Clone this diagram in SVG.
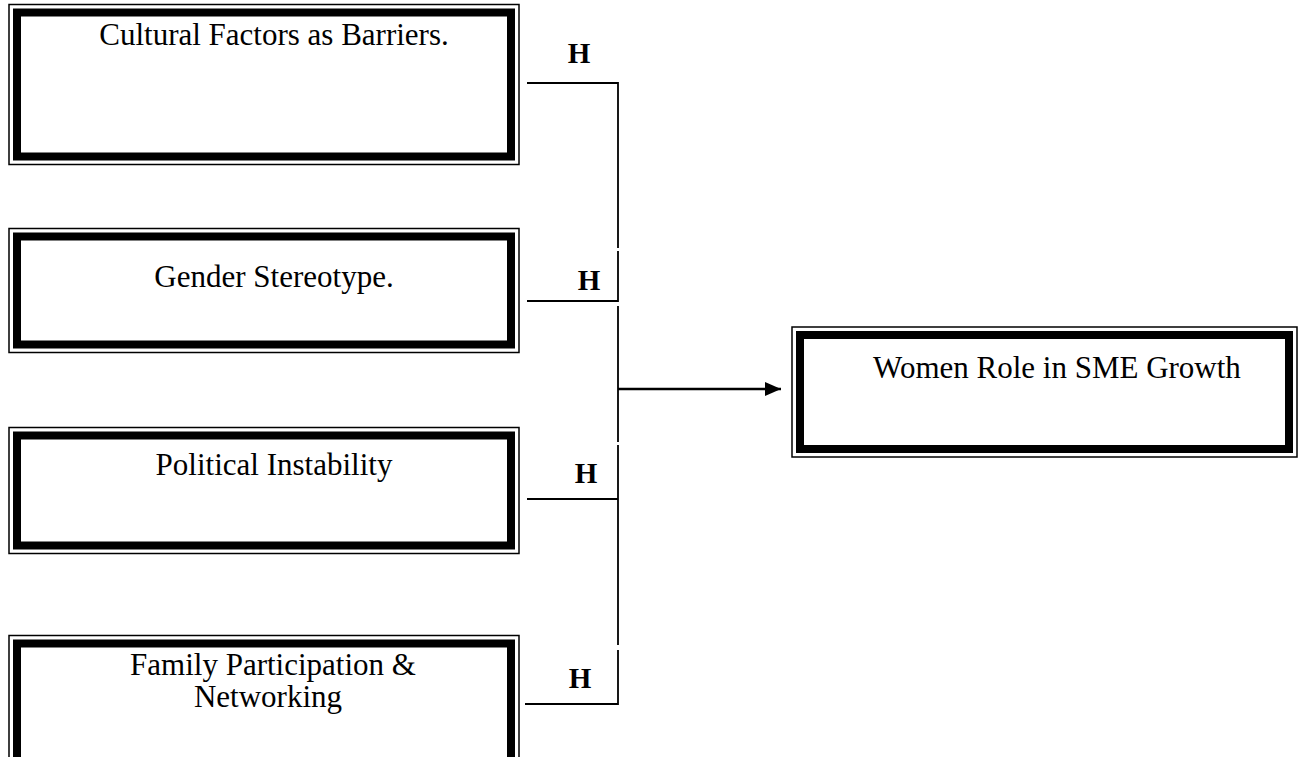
<svg xmlns="http://www.w3.org/2000/svg" width="1301" height="757" viewBox="0 0 1301 757">
<style>
.outer{fill:#fff;stroke:#000;stroke-width:1.5}
.thick{fill:none;stroke:#000;stroke-width:8}
.lbl{font-family:"Liberation Serif","Times New Roman",serif;font-size:31px;fill:#000;text-anchor:middle}
.h{font-family:"Liberation Serif","Times New Roman",serif;font-size:29px;font-weight:bold;fill:#000;text-anchor:middle}
.ln{stroke:#000;stroke-width:1.8;fill:none}
</style>
<defs>
<marker id="arr" markerWidth="16" markerHeight="14" refX="16" refY="7" orient="auto" markerUnits="userSpaceOnUse">
<path d="M0,0 L16,7 L0,14 Z" fill="#000"/>
</marker>
</defs>
<rect width="1301" height="757" fill="#fff"/>
<g id="node-cultural">
<rect class="outer" x="9" y="4.5" width="510" height="160"/>
<rect class="thick" x="17" y="12.5" width="494" height="144"/>
<text class="lbl" x="274" y="45">Cultural Factors as Barriers.</text>
</g>
<g id="node-gender">
<rect class="outer" x="9" y="228.5" width="510" height="124"/>
<rect class="thick" x="17" y="236.5" width="494" height="108"/>
<text class="lbl" x="274" y="287">Gender Stereotype.</text>
</g>
<g id="node-political">
<rect class="outer" x="9" y="427.5" width="510" height="126"/>
<rect class="thick" x="17" y="435.5" width="494" height="110"/>
<text class="lbl" x="274" y="475">Political Instability</text>
</g>
<g id="node-family">
<rect class="outer" x="9" y="635.5" width="510" height="160"/>
<rect class="thick" x="17" y="643.5" width="494" height="144"/>
<text class="lbl" x="273" y="675">Family Participation &amp;</text>
<text class="lbl" x="268" y="707">Networking</text>
</g>
<g id="node-women">
<rect class="outer" x="792" y="327" width="505" height="130"/>
<rect class="thick" x="800" y="335" width="489" height="114"/>
<text class="lbl" x="1057" y="378">Women Role in SME Growth</text>
</g>
<g id="connectors">
<path class="ln" d="M527,83 H618 V248 M618,251 V301 H527 M618,306 V442 M618,445 V499 H527 M618,499 V645 M618,650 V704 H525"/>
<line x1="618" y1="389" x2="781" y2="389" stroke="#000" stroke-width="2.4" marker-end="url(#arr)"/>
<text class="h" x="579" y="63">H</text>
<text class="h" x="589" y="290">H</text>
<text class="h" x="586" y="483">H</text>
<text class="h" x="580" y="688">H</text>
</g>
</svg>
